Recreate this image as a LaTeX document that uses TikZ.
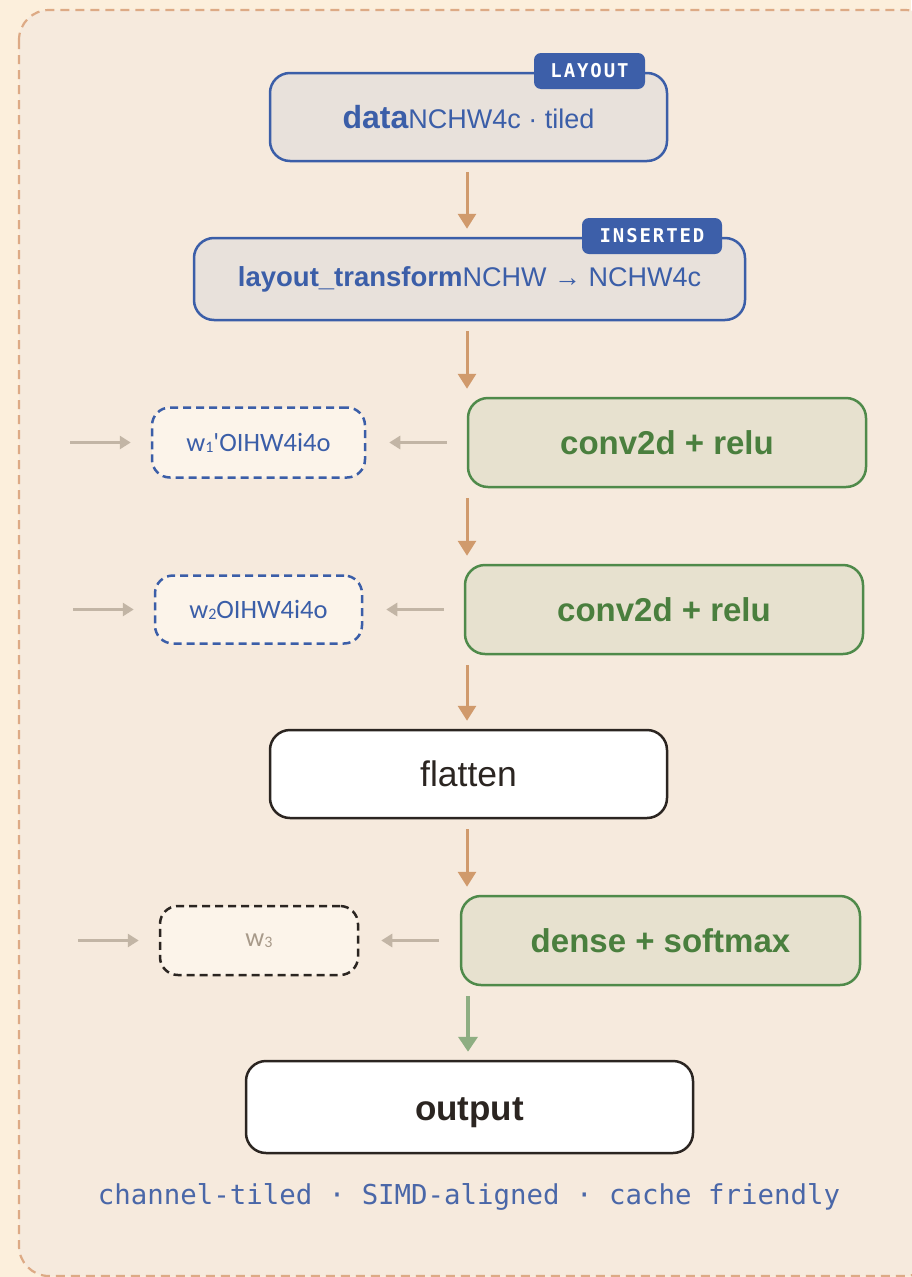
\documentclass[tikz,border=0pt]{standalone}
\usepackage{fontspec}
\setmainfont{Liberation Sans}
\newfontfamily\wfont{Carlito}
\newfontfamily\footmono{DejaVu Sans Mono}
\newfontfamily\badgefont[LetterSpace=10]{DejaVu Sans Mono}
\usetikzlibrary{arrows.meta,calc}
\definecolor{outerBg}{HTML}{FCEFDC}
\definecolor{innerBg}{HTML}{F6EADD}
\definecolor{frameC}{HTML}{DDAA85}
\definecolor{blueC}{HTML}{3B5EA8}
\definecolor{blueFill}{HTML}{E8E1DB}
\definecolor{badgeC}{HTML}{3D5FA9}
\definecolor{greenC}{HTML}{4F8A4A}
\definecolor{greenT}{HTML}{4A7F3E}
\definecolor{greenFill}{HTML}{E7E1CF}
\definecolor{wFill}{HTML}{FCF4EA}
\definecolor{grayC}{HTML}{C2B5A5}
\definecolor{orangeC}{HTML}{D09A6C}
\definecolor{greenArrow}{HTML}{8EAE82}
\definecolor{darkC}{HTML}{2B2521}
\definecolor{wThree}{HTML}{A89A8A}
\definecolor{footC}{HTML}{4A67A8}
\tikzset{
  base/.style={rounded corners=20pt, line width=2.5pt, align=center, inner sep=0pt},
  bluebox/.style={base, draw=blueC, fill=blueFill, text=blueC},
  greenbox/.style={base, draw=greenC, fill=greenFill, text=greenT, font=\fontsize{33}{36}\selectfont\bfseries, minimum width=398pt, minimum height=89pt},
  plainbox/.style={base, draw=darkC, fill=white, text=darkC},
  wbox/.style={rounded corners=18pt, line width=2.5pt, dash pattern=on 8pt off 5pt, fill=wFill, inner sep=0pt, font=\wfont\fontsize{26.5}{28}\selectfont},
  badge/.style={rounded corners=7pt, fill=badgeC, text=white, font=\badgefont\bfseries\fontsize{19}{20}\selectfont, minimum height=36pt, inner sep=0pt},
  flow/.style={draw=orangeC, line width=3pt, -{Triangle[width=18pt,length=15pt]}, shorten <=10pt, shorten >=8pt},
  side/.style={draw=grayC, line width=3.5pt, -{Triangle[width=13pt,length=11pt]}},
}
\newcommand{\wsub}[1]{{\fontsize{16}{16}\selectfont\raisebox{-1pt}{#1}}}
\begin{document}
\begin{tikzpicture}[x=1pt,y=-1pt]
\useasboundingbox (0,0) rectangle (911,1277);
\fill[outerBg] (0,0) rectangle (911,1277);
\draw[frameC, fill=innerBg, line width=2.2pt, dash pattern=on 9pt off 6pt, rounded corners=30pt] (19,10) rectangle (935,1276);

\coordinate (spine) at (467,0);

% main column
\node[bluebox, minimum width=397pt, minimum height=88pt] (data) at (468.5,117)
  {{\fontsize{32}{34}\selectfont\bfseries data}{\fontsize{27}{30}\selectfont NCHW4c · tiled}};
\node[badge, minimum width=111pt] (b1) at (589.5,71) {LAYOUT};

\node[bluebox, minimum width=551pt, minimum height=82pt] (lt) at (469.5,279)
  {{\fontsize{27.5}{30}\selectfont\bfseries layout\_transform}{\fontsize{27}{30}\selectfont NCHW → NCHW4c}};
\node[badge, minimum width=140pt] (b2) at (652,236) {INSERTED};

\node[greenbox] (c1) at (667,442.5) {conv2d + relu};
\node[wbox, draw=blueC, text=blueC, minimum width=213pt, minimum height=70pt] (w1) at (258.5,442.5)
  {w\wsub{1}\textquotesingle OIHW4i4o};

\node[greenbox] (c2) at (664,609.5) {conv2d + relu};
\node[wbox, draw=blueC, text=blueC, minimum width=207pt, minimum height=68pt] (w2) at (258.5,609.5)
  {w\wsub{2}OIHW4i4o};

\node[plainbox, minimum width=397pt, minimum height=88pt, font=\fontsize{35.5}{38}\selectfont] (fl) at (468.5,774) {flatten};

\node[greenbox, minimum width=399pt] (dn) at (660.5,940.5) {dense + softmax};
\node[wbox, draw=darkC, text=wThree, minimum width=198pt, minimum height=69pt] (w3) at (259,940.5)
  {w\wsub{3}};

\node[plainbox, minimum width=447pt, minimum height=92pt, font=\fontsize{35}{38}\selectfont\bfseries, text height=26pt, text depth=0pt] (out) at (469.5,1107) {output};

\node[text=footC, font=\footmono\fontsize{27.4}{30}\selectfont, inner sep=0pt] (foot) at (469,1197)
  {channel-tiled · SIMD-aligned · cache friendly};

% vertical flow
\draw[flow] (data.south -| spine) -- (lt.north -| spine);
\draw[flow] (lt.south -| spine) -- (c1.north -| spine);
\draw[flow] (c1.south -| spine) -- (c2.north -| spine);
\draw[flow] (c2.south -| spine) -- (fl.north -| spine);
\draw[flow] (fl.south -| spine) -- (dn.north -| spine);
\draw[flow, draw=greenArrow, line width=4pt, -{Triangle[width=19pt,length=15pt]}] (dn.south -| spine) ++(1,0) coordinate (gs) (gs) -- (out.north -| gs);

% side arrows
\coordinate (in1) at (70,442.5);
\coordinate (in2) at (73,609.5);
\coordinate (in3) at (78,940.5);
\draw[side, shorten <=20pt, shorten >=23pt] (c1.west) -- (w1.east);
\draw[side, shorten >=20pt] (in1) -- (w1.west);
\draw[side, shorten <=20pt, shorten >=23pt] (c2.west) -- (w2.east);
\draw[side, shorten >=20pt] (in2) -- (w2.west);
\draw[side, shorten <=21pt, shorten >=22pt] (dn.west) -- (w3.east);
\draw[side, shorten >=20pt] (in3) -- (w3.west);
\end{tikzpicture}
\end{document}
